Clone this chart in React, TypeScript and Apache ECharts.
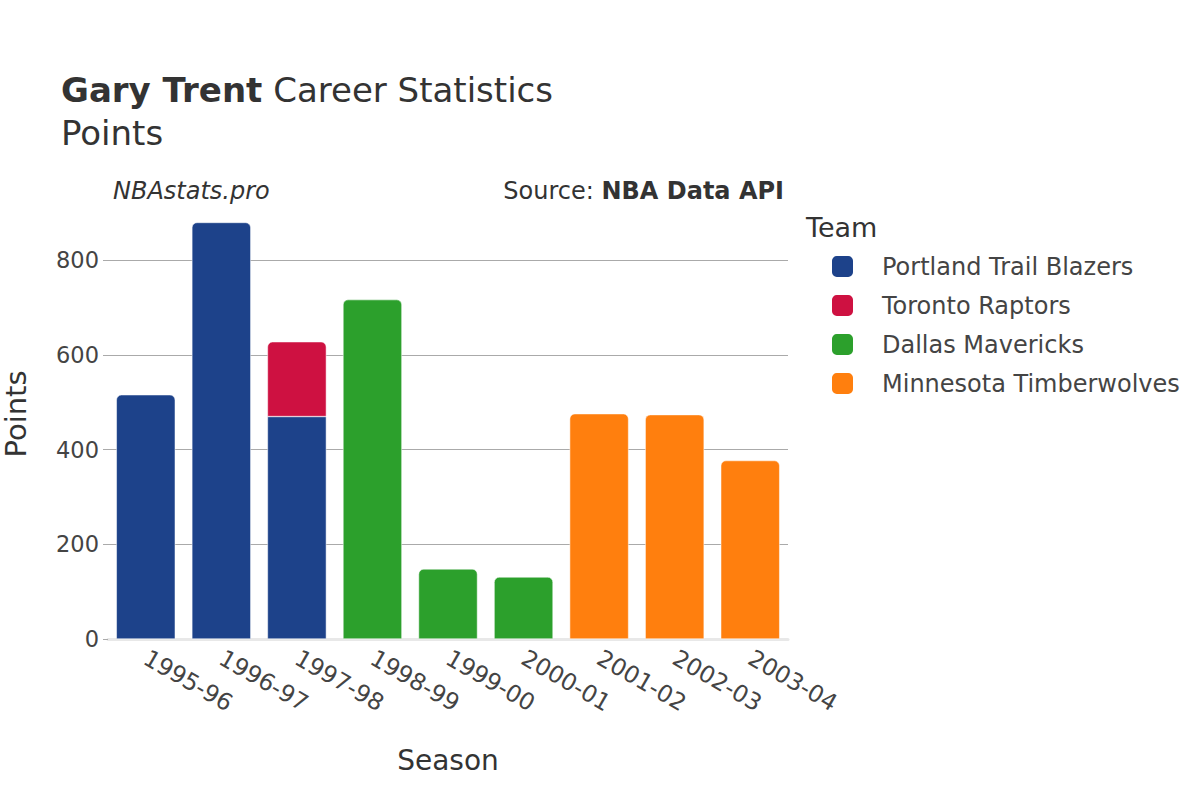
import React, { useEffect, useRef } from "react";
import * as echarts from "echarts";

const seasons = ["1995-96", "1996-97", "1997-98", "1998-99", "1999-00", "2000-01", "2001-02", "2002-03", "2003-04"];
const teams = ["Portland Trail Blazers", "Toronto Raptors", "Dallas Mavericks", "Minnesota Timberwolves"];
const teamColors = ["#1d428a", "#ce1141", "#2ca02c", "#ff7f0e"];
const portland = [516, 880, 470, null, null, null, null, null, null];
const toronto = [null, null, 158, null, null, null, null, null, null];
const dallas = [null, null, null, 717, 148, 131, null, null, null];
const minnesota = [null, null, null, null, null, null, 476, 474, 377];
const yTicks = [0, 200, 400, 600, 800];

const FONT = "DejaVu Sans";

export default function App() {
  const ref = useRef<HTMLDivElement>(null);
  useEffect(() => {
    if (!ref.current) return;
    const chart = echarts.init(ref.current, undefined, { renderer: "svg" });
    const all = [portland, toronto, dallas, minnesota];
    const topIdx = seasons.map((_, c) => {
      let t = -1;
      all.forEach((arr, i) => {
        if (arr[c] != null) t = i;
      });
      return t;
    });
    const series = all.map((arr, i) => ({
      name: teams[i],
      type: "bar",
      stack: "total",
      barCategoryGap: "22%",
      itemStyle: { color: teamColors[i], borderColor: "#ffffff", borderWidth: 0.5 },
      data: arr.map((v, c) =>
        v == null
          ? "-"
          : { value: v, itemStyle: { borderRadius: topIdx[c] === i ? [5, 5, 0, 0] : 0 } }
      ),
    }));
    chart.setOption({
      animation: false,
      backgroundColor: "#ffffff",
      textStyle: { fontFamily: FONT },
      grid: { left: 108, right: 412, top: 213, bottom: 161 },
      legend: {
        data: teams,
        orient: "vertical",
        left: 825,
        top: 249,
        itemWidth: 23,
        itemHeight: 23,
        itemGap: 14,
        icon: "roundRect",
        textStyle: { fontSize: 24, color: "#444", fontFamily: FONT, padding: [0, 0, 0, 23] },
      },
      xAxis: {
        type: "category",
        data: seasons,
        axisTick: { show: false },
        axisLine: { lineStyle: { color: "#e8e8e8", width: 3 } },
        axisLabel: { rotate: -30, fontSize: 23.5, color: "#444", margin: 17, fontFamily: FONT },
      },
      yAxis: {
        type: "value",
        min: 0,
        max: 900,
        interval: 200,
        axisLine: { show: false },
        axisTick: { show: true, length: 5, lineStyle: { color: "#aaa" } },
        axisLabel: {
          fontSize: 22.5,
          color: "#444",
          margin: 9,
          fontFamily: FONT,
          showMaxLabel: false,
          formatter: (v: number) => (yTicks.includes(v) ? String(v) : ""),
        },
        splitLine: {
          lineStyle: { color: ["#aaa", "#aaa", "#aaa", "#aaa", "#aaa", "rgba(0,0,0,0)"], width: 1 },
        },
      },
      graphic: [
        {
          type: "text",
          x: 61,
          y: 90,
          style: {
            text: "{b|Gary Trent} Career Statistics",
            font: `34px ${FONT}`,
            fill: "#333",
            verticalAlign: "middle",
            rich: { b: { fontWeight: "bold", fontSize: 34, fontFamily: FONT, fill: "#333" } },
          },
        },
        {
          type: "text",
          x: 61,
          y: 133,
          style: { text: "Points", font: `34px ${FONT}`, fill: "#333", verticalAlign: "middle" },
        },
        {
          type: "text",
          x: 113,
          y: 191,
          style: { text: "NBAstats.pro", font: `italic 24px ${FONT}`, fill: "#333", verticalAlign: "middle" },
        },
        {
          type: "text",
          x: 784,
          y: 191,
          style: {
            text: "Source: {b|NBA Data API}",
            font: `24px ${FONT}`,
            fill: "#333",
            align: "right",
            verticalAlign: "middle",
            rich: { b: { fontWeight: "bold", fontSize: 24, fontFamily: FONT, fill: "#333" } },
          },
        },
        {
          type: "text",
          x: 806,
          y: 227,
          style: { text: "Team", font: `27px ${FONT}`, fill: "#333", verticalAlign: "middle" },
        },
        {
          type: "text",
          x: 16,
          y: 414,
          rotation: Math.PI / 2,
          style: { text: "Points", font: `29px ${FONT}`, fill: "#333", align: "center", verticalAlign: "middle" },
        },
        {
          type: "text",
          x: 448,
          y: 760,
          style: { text: "Season", font: `28px ${FONT}`, fill: "#333", align: "center", verticalAlign: "middle" },
        },
      ],
      series,
    });
    return () => chart.dispose();
  }, []);
  return <div ref={ref} style={{ width: 1200, height: 800, position: "absolute", left: 0, top: 0 }} />;
}
